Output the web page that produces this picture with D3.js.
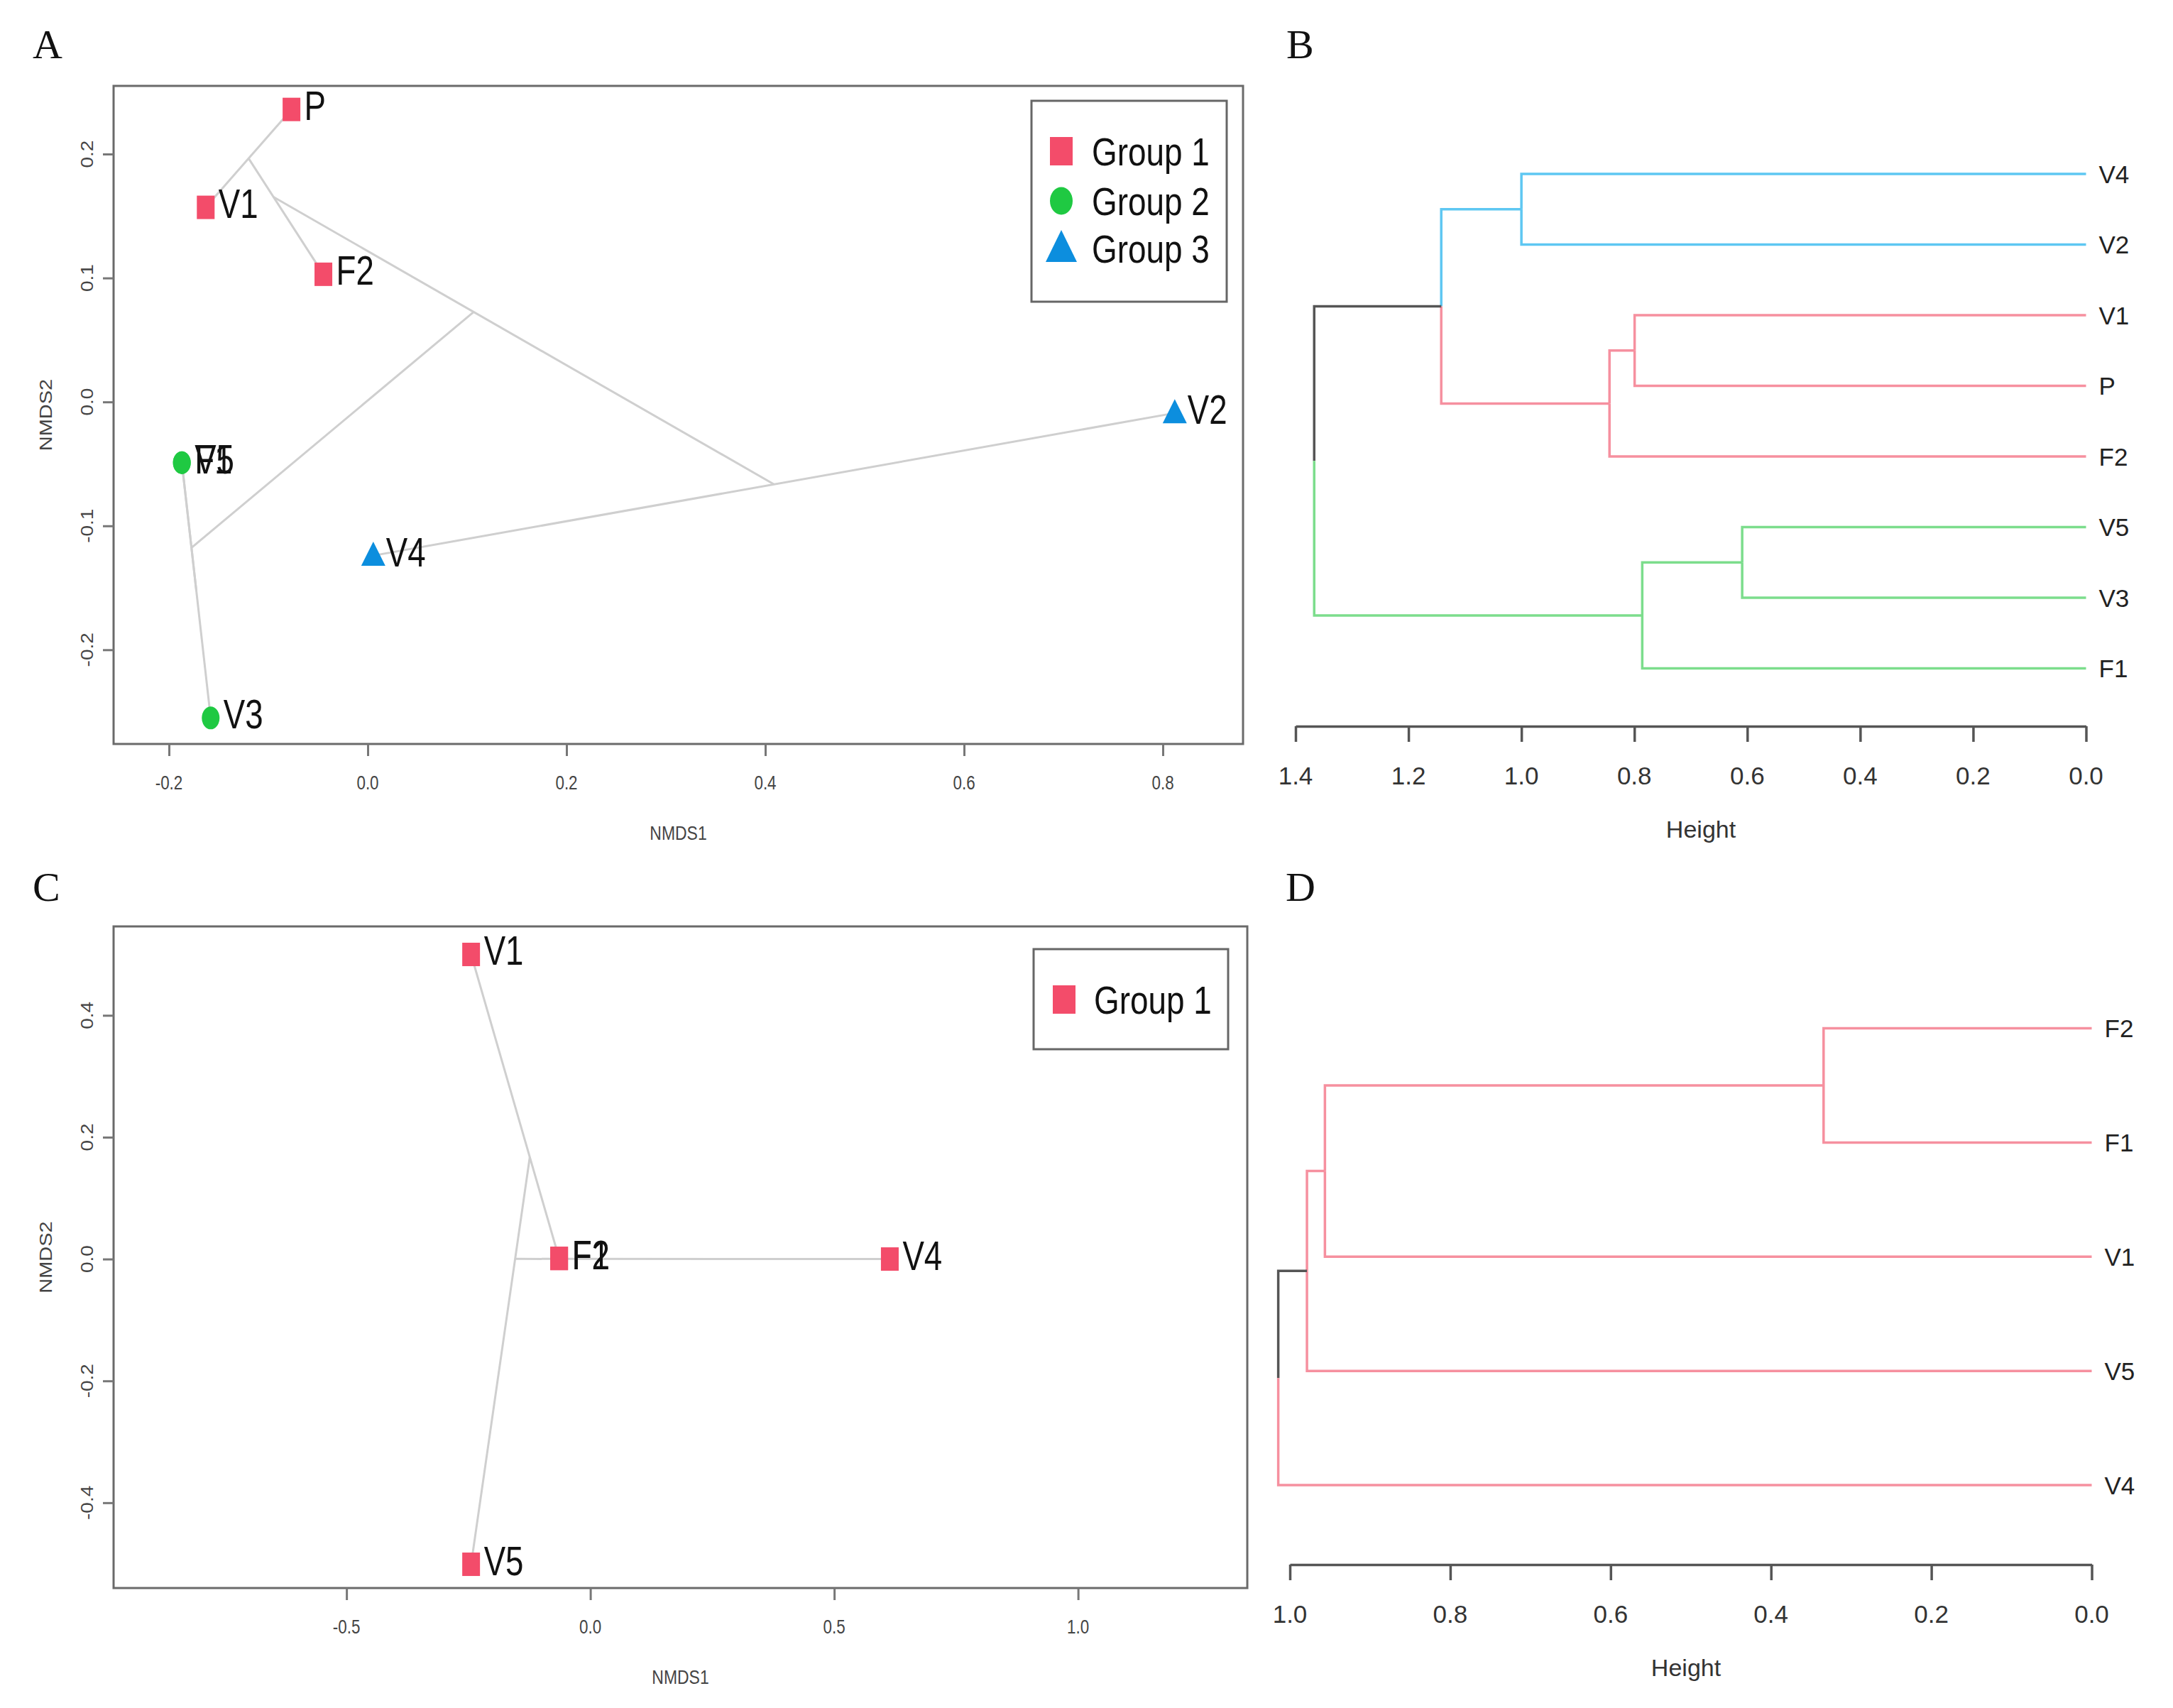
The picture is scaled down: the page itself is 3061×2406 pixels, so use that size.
<!DOCTYPE html>
<html><head><meta charset="utf-8">
<script src="https://cdn.jsdelivr.net/npm/d3@7"></script>
<style>html,body{margin:0;padding:0;background:#fff;}svg{display:block;}</style>
</head><body>
<script>
// ---------------- DATA ----------------
// Panel A: NMDS ordination
const samplesA = ["P","V1","F2","F1","V5","V3","V4","V2"];
const nmds1A   = [-0.0767,-0.163,-0.0446,-0.187,-0.187,-0.158,0.0056,0.812];
const nmds2A   = [0.236,0.157,0.103,-0.049,-0.049,-0.255,-0.124,-0.009];
const groupA   = [1,1,1,2,2,2,3,3];
const xTicksA = [-0.2,0.0,0.2,0.4,0.6,0.8];
const yTicksA = [-0.2,-0.1,0.0,0.1,0.2];
const groupLabelsA = ["Group 1","Group 2","Group 3"];

// Panel B: hierarchical clustering (also used for ordicluster in A)
const leavesB  = ["V4","V2","V1","P","F2","V5","V3","F1"];
const clusterB = [1,1,2,2,2,3,3,3];
const mergeB_a = ["V5","F1","V1","F2","V4","m5","m6"];
const mergeB_b = ["V3","m1","P","m3","V2","m4","m2"];
const mergeB_h = [0.609,0.786,0.7995,0.844,1.000,1.142,1.367];
const ticksB   = [1.4,1.2,1.0,0.8,0.6,0.4,0.2,0.0];

// Panel C
const samplesC = ["V1","F1","F2","V4","V5"];
const nmds1C   = [-0.2445,-0.064,-0.064,0.614,-0.2445];
const nmds2C   = [0.500,0.001,0.001,0.000,-0.501];
const groupC   = [1,1,1,1,1];
const xTicksC = [-0.5,0.0,0.5,1.0];
const yTicksC = [-0.4,-0.2,0.0,0.2,0.4];
const groupLabelsC = ["Group 1"];

// Panel D
const leavesD  = ["F2","F1","V1","V5","V4"];
const clusterD = [1,1,1,2,3];
const mergeD_a = ["F2","m1","m2","m3"];
const mergeD_b = ["F1","V1","V5","V4"];
const mergeD_h = [0.3344,0.9563,0.9787,1.0145];
const ticksD   = [1.0,0.8,0.6,0.4,0.2,0.0];

// ---------------- STYLE ----------------
const W = 3061, H = 2406;
const groupFill = {1:"#F34C6A", 2:"#1FC942", 3:"#0C8EDE"};
const groupShape = {1:"square", 2:"circle", 3:"triangle"};
const clusterColB = {1:"#5EC7F2", 2:"#F6909F", 3:"#7CDD8C"};
const clusterColD = {1:"#F6909F", 2:"#F6909F", 3:"#F6909F"};
const rootCol = "#555";
const SANS = "'Liberation Sans', Arial, Helvetica, sans-serif";
const SERIF = "'Liberation Serif', 'Times New Roman', serif";

const svg = d3.select("body").append("svg").attr("width", W).attr("height", H)
  .attr("viewBox", `0 0 ${W} ${H}`);
svg.append("rect").attr("width", W).attr("height", H).attr("fill", "#fff");

function narrowText(g, x, y, txt, size, opts = {}) {
  const sx = opts.sx || 0.8;
  const rot = opts.rotate ? " rotate(-90)" : "";
  const sc = opts.rotate ? ` scale(1,${sx})` : ` scale(${sx},1)`;
  return g.append("text").attr("transform", `translate(${x},${y})${rot}${sc}`)
    .attr("font-family", SANS).attr("font-size", size)
    .attr("fill", opts.fill || "#111")
    .attr("text-anchor", opts.anchor || "start")
    .attr("dominant-baseline", opts.baseline || "auto")
    .text(txt);
}

function drawMarker(g, shape, cx, cy, fill, big) {
  const w = big ? 32 : 25, h = big ? 40 : 33;
  if (shape === "square") {
    g.append("rect").attr("x", cx - w/2).attr("y", cy - h/2).attr("width", w).attr("height", h).attr("fill", fill);
  } else if (shape === "circle") {
    g.append("ellipse").attr("cx", cx).attr("cy", cy).attr("rx", w/2).attr("ry", h/2 - 0.5).attr("fill", fill);
  } else {
    const tw = big ? 44 : 34, th = big ? 45 : 34;
    g.append("path").attr("d", `M${cx},${cy - th*0.58}L${cx - tw/2},${cy + th*0.42}L${cx + tw/2},${cy + th*0.42}Z`).attr("fill", fill);
  }
}

// ordicluster: segments between centroids of merged clusters
function ordicluster(names, xs, ys, ma, mb) {
  const pos = {}; names.forEach((n, i) => pos[n] = {x: xs[i], y: ys[i], n: 1});
  const segs = [];
  ma.forEach((a, i) => {
    const A = pos[a], B = pos[mb[i]];
    segs.push([A, B]);
    const n = A.n + B.n;
    pos["m" + (i + 1)] = {x: (A.x*A.n + B.x*B.n)/n, y: (A.y*A.n + B.y*B.n)/n, n};
  });
  return segs;
}

function nmdsPanel(cfg) {
  const g = svg.append("g");
  const x = d3.scaleLinear().domain(cfg.xDom).range([cfg.box[0], cfg.box[2]]);
  const y = d3.scaleLinear().domain(cfg.yDom).range([cfg.box[3], cfg.box[1]]);
  // box
  g.append("rect").attr("x", cfg.box[0]).attr("y", cfg.box[1])
    .attr("width", cfg.box[2] - cfg.box[0]).attr("height", cfg.box[3] - cfg.box[1])
    .attr("fill", "none").attr("stroke", "#6a6a6a").attr("stroke-width", 3);
  // axes (ticks via d3 axis)
  const ax = g.append("g").attr("transform", `translate(0,${cfg.box[3]})`)
    .call(d3.axisBottom(x).tickValues(cfg.xTicks).tickSize(17).tickFormat(""));
  const ay = g.append("g").attr("transform", `translate(${cfg.box[0]},0)`)
    .call(d3.axisLeft(y).tickValues(cfg.yTicks).tickSize(15).tickFormat(""));
  [ax, ay].forEach(a => {
    a.select(".domain").remove();
    a.selectAll(".tick line").attr("stroke", "#777").attr("stroke-width", 3);
  });
  cfg.xTicks.forEach(t => narrowText(g, x(t), cfg.box[3] + 64, t.toFixed(1), 28,
    {anchor: "middle", fill: "#444", sx: 0.8}));
  cfg.yTicks.forEach(t => narrowText(g, cfg.box[0] - 37, y(t), t.toFixed(1), 28,
    {anchor: "middle", fill: "#444", rotate: true, baseline: "central", sx: 0.85}));
  narrowText(g, (cfg.box[0] + cfg.box[2]) / 2, cfg.box[3] + 135, "NMDS1", 28,
    {anchor: "middle", fill: "#444", sx: 0.82});
  narrowText(g, 65, (cfg.box[1] + cfg.box[3]) / 2, "NMDS2", 29,
    {anchor: "middle", fill: "#444", rotate: true, baseline: "central", sx: 0.85});
  // cluster segments
  const segs = ordicluster(cfg.names, cfg.xs, cfg.ys, cfg.ma, cfg.mb);
  g.append("g").selectAll("line").data(segs).join("line")
    .attr("x1", d => x(d[0].x)).attr("y1", d => y(d[0].y))
    .attr("x2", d => x(d[1].x)).attr("y2", d => y(d[1].y))
    .attr("stroke", "#cfcfcf").attr("stroke-width", 3);
  // points
  const pg = g.append("g");
  cfg.names.forEach((n, i) => drawMarker(pg, groupShape[cfg.groups[i]], x(cfg.xs[i]), y(cfg.ys[i]), groupFill[cfg.groups[i]], false));
  cfg.names.forEach((n, i) => narrowText(pg, x(cfg.xs[i]) + 18, y(cfg.ys[i]) + 15, n, 57, {fill: "#111", sx: 0.8}));
  // legend
  const L = cfg.legend;
  g.append("rect").attr("x", L.box[0]).attr("y", L.box[1]).attr("width", L.box[2] - L.box[0])
    .attr("height", L.box[3] - L.box[1]).attr("fill", "#fff").attr("stroke", "#666").attr("stroke-width", 3);
  L.labels.forEach((lab, i) => {
    const cy = L.ys[i];
    drawMarker(g, groupShape[i + 1], L.mx, cy, groupFill[i + 1], true);
    narrowText(g, L.tx, cy + 20, lab, 56, {fill: "#111", sx: 0.82});
  });
}

function dendroPanel(cfg) {
  const g = svg.append("g");
  const x = d3.scaleLinear().domain([cfg.ticks[0], 0]).range(cfg.xRange);
  const y = d3.scalePoint().domain(cfg.leaves).range(cfg.yRange);
  const nodes = {};
  cfg.leaves.forEach((l, i) => nodes[l] = {x: x(0), y: y(l), cl: new Set([cfg.clusters[i]])});
  const segs = [];
  cfg.ma.forEach((a, i) => {
    const A = nodes[a], B = nodes[cfg.mb[i]];
    const xm = x(cfg.mh[i]), ym = (A.y + B.y) / 2;
    [A, B].forEach(c => {
      const col = c.cl.size === 1 ? cfg.colors[[...c.cl][0]] : rootCol;
      segs.push({d: `M${xm},${ym}V${c.y}H${c.x}`, col});
    });
    nodes["m" + (i + 1)] = {x: xm, y: ym, cl: new Set([...A.cl, ...B.cl])};
  });
  g.append("g").selectAll("path").data(segs).join("path")
    .attr("d", d => d.d).attr("fill", "none").attr("stroke", d => d.col)
    .attr("stroke-width", 3.5);
  g.selectAll("text.leaf").data(cfg.leaves).join("text").attr("class", "leaf")
    .attr("x", x(0) + 18).attr("y", d => y(d) + 12.5)
    .attr("font-family", SANS).attr("font-size", 35).attr("fill", "#222").text(d => d);
  const ax = g.append("g").attr("transform", `translate(0,${cfg.axisY})`)
    .call(d3.axisBottom(x).tickValues(cfg.ticks).tickSize(22).tickSizeOuter(0).tickFormat(""));
  ax.select(".domain").attr("stroke", "#555").attr("stroke-width", 3.5);
  ax.selectAll(".tick line").attr("stroke", "#555").attr("stroke-width", 3.5);
  cfg.ticks.forEach(t => g.append("text").attr("x", x(t)).attr("y", cfg.axisY + 82)
    .attr("text-anchor", "middle").attr("font-family", SANS).attr("font-size", 35)
    .attr("fill", "#333").text(t.toFixed(1)));
  g.append("text").attr("x", cfg.hx).attr("y", cfg.axisY + 157).attr("text-anchor", "middle")
    .attr("font-family", SANS).attr("font-size", 34).attr("fill", "#333").text("Height");
}

// ---------------- PANELS ----------------
nmdsPanel({
  box: [160, 121, 1751, 1048], xDom: [-0.2557, 0.8807], yDom: [-0.276, 0.255],
  xTicks: xTicksA, yTicks: yTicksA,
  names: samplesA, xs: nmds1A, ys: nmds2A, groups: groupA,
  ma: mergeB_a, mb: mergeB_b,
  legend: {box: [1453, 142, 1728, 425], mx: 1495, tx: 1538, ys: [213, 283, 350], labels: groupLabelsA}
});
nmdsPanel({
  box: [160, 1305, 1757, 2237], xDom: [-0.9776, 1.347], yDom: [-0.540, 0.546],
  xTicks: xTicksC, yTicks: yTicksC,
  names: samplesC, xs: nmds1C, ys: nmds2C, groups: groupC,
  ma: mergeD_a, mb: mergeD_b,
  legend: {box: [1456, 1337, 1730, 1478], mx: 1499, tx: 1541, ys: [1408], labels: groupLabelsC}
});
dendroPanel({
  leaves: leavesB, clusters: clusterB, colors: clusterColB, ma: mergeB_a, mb: mergeB_b, mh: mergeB_h,
  ticks: ticksB, xRange: [1825, 2938.5], yRange: [245, 941.6], axisY: 1023, hx: 2396
});
dendroPanel({
  leaves: leavesD, clusters: clusterD, colors: clusterColD, ma: mergeD_a, mb: mergeD_b, mh: mergeD_h,
  ticks: ticksD, xRange: [1817, 2946.5], yRange: [1448.5, 2092], axisY: 2204, hx: 2375
});

// panel letters
[["A", 46, 82], ["B", 1812, 82], ["C", 46, 1269], ["D", 1811, 1269]].forEach(([t, px, py]) =>
  svg.append("text").attr("x", px).attr("y", py).attr("font-family", SERIF)
    .attr("font-size", 58).attr("fill", "#111").text(t));
</script>
</body></html>
